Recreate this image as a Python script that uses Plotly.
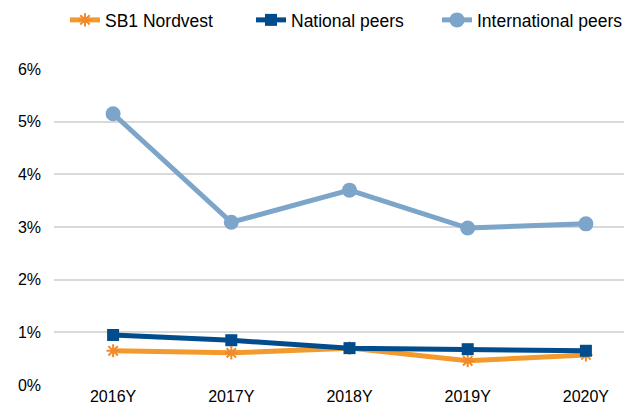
import plotly.graph_objects as go

categories = ["2016Y", "2017Y", "2018Y", "2019Y", "2020Y"]
sb1_nordvest = [0.65, 0.61, 0.70, 0.46, 0.57]
national_peers = [0.95, 0.85, 0.70, 0.68, 0.65]
international_peers = [5.15, 3.09, 3.70, 2.98, 3.06]
y_ticks = [0, 1, 2, 3, 4, 5, 6]
y_tick_labels = ["0%", "1%", "2%", "3%", "4%", "5%", "6%"]

W, H = 624, 406  # page body has an 8px margin

fig = go.Figure()
fig.add_trace(go.Scatter(
    x=categories, y=sb1_nordvest, name="SB1 Nordvest", mode="lines+markers",
    line=dict(color="#F39A2E", width=5),
    marker=dict(symbol="asterisk-open", size=11, color="#F08A2A", line=dict(width=2, color="#F08A2A")),
))
fig.add_trace(go.Scatter(
    x=categories, y=national_peers, name="National peers", mode="lines+markers",
    line=dict(color="#004C8C", width=5),
    marker=dict(symbol="square", size=12, color="#004C8C"),
))
fig.add_trace(go.Scatter(
    x=categories, y=international_peers, name="International peers", mode="lines+markers",
    line=dict(color="#7CA5C9", width=5),
    marker=dict(symbol="circle", size=15, color="#7CA5C9"),
))

fig.update_layout(
    width=W, height=H,
    margin=dict(l=46, r=0, t=61, b=29, autoexpand=False),
    plot_bgcolor="white", paper_bgcolor="white",
    font=dict(family="Liberation Sans, Arial, sans-serif", size=16, color="#000000"),
    showlegend=True,
    legend=dict(orientation="h", xref="container", x=57 / W, yref="container", y=1 - 12 / H,
                xanchor="left", yanchor="middle", font=dict(size=17.5),
                itemwidth=30, tracegroupgap=0, borderwidth=0,
                entrywidthmode="pixels", entrywidth=141),
    xaxis=dict(type="category", range=[-0.5, 4.39], showgrid=False, zeroline=False,
               showline=False, ticks="", tickfont=dict(size=16)),
    yaxis=dict(range=[0, 6.0], tickvals=y_ticks, ticktext=y_tick_labels,
               showgrid=True, gridcolor="#D9D9D9", gridwidth=1.5, zeroline=False,
               showline=False, ticks="", tickfont=dict(size=16), ticklabelstandoff=12),
)

fig.write_html("out.html")
